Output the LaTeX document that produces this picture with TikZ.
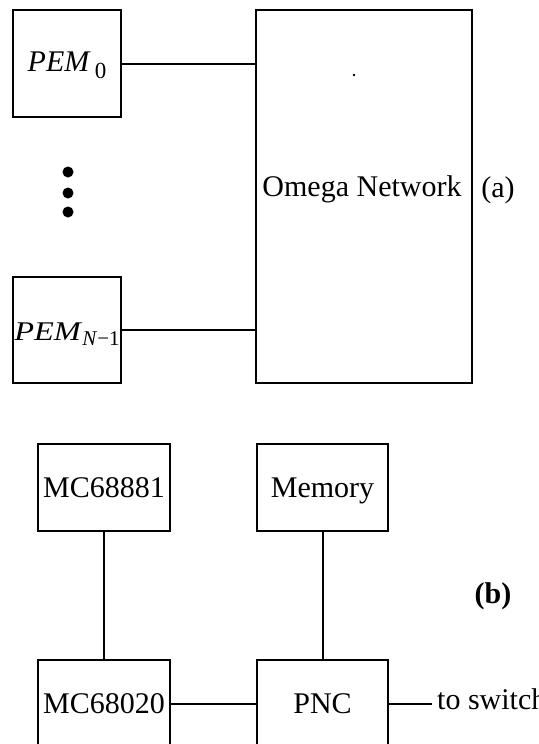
\documentclass[tikz,border=0pt]{standalone}
\usepackage{fontspec}
\setmainfont{Liberation Serif}
\usepackage{graphicx}
\begin{document}
\begin{tikzpicture}[x=1pt,y=-1pt,
  box/.style={draw, line width=2.2pt, inner sep=1pt, text height=20pt, text depth=0pt,
              font=\fontsize{30}{36}\selectfont},
  txt/.style={font=\fontsize{30}{36}\selectfont, inner sep=0pt},
  conn/.style={line width=2pt}]
\clip (0,0) rectangle (538,744);
\fill[white] (0,0) rectangle (538,744);
% (a)
\node[box, minimum width=108pt, minimum height=107pt] (pem0) at (67,63.5)
  {\raisebox{2pt}{\textit{PEM}}\hspace{4pt}\raisebox{-5pt}{\fontsize{23}{23}\selectfont 0}};
\node[box, minimum width=108pt, minimum height=106pt] (pemN) at (67,330)
  {\scalebox{1.2}[1]{\fontsize{27}{30}\selectfont\textit{PEM}}\raisebox{-5pt}{\fontsize{21}{21}\selectfont\textit{N}−1}};
\node[box, minimum width=216pt, minimum height=373pt] (omega) at (364,196.5) {};
\node[txt] (omegatext) at (362,189) {Omega Network};
\node[txt] (la) at (498,190) {(a)};
\draw[conn] (pem0.east) -- (pem0.east -| omega.west);
\draw[conn] (pemN.east) -- (pemN.east -| omega.west);
\fill (68,172) circle (5.5);
\fill (68,193) circle (5.5);
\fill (68,212) circle (5.5);
\fill (354,75) circle (1.3);
% (b)
\node[box, minimum width=132pt, minimum height=87pt] (m881) at (104,487.5) {MC68881};
\node[box, minimum width=132pt, minimum height=87pt] (m020) at (104,703.5) {MC68020};
\node[box, minimum width=131pt, minimum height=87pt] (mem) at (322.5,487.5) {Memory};
\node[box, minimum width=131pt, minimum height=87pt] (pnc) at (322.5,703.5) {PNC};
\node[txt, font=\fontsize{30}{36}\selectfont\bfseries] (lb) at (493,596) {(b)};
\coordinate (sw) at (432,703.5);
\node[txt, anchor=base west] (tosw) at (437,709) {to switch};
\draw[conn] (m881.south) -- (m020.north);
\draw[conn] (mem.south) -- (pnc.north);
\draw[conn] (m020.east) -- (pnc.west);
\draw[conn] (pnc.east) -- (sw);
\end{tikzpicture}
\end{document}
